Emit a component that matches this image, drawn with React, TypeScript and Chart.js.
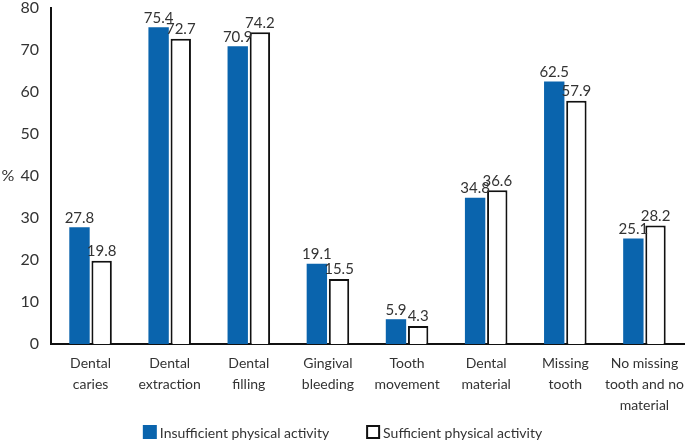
import React, { useEffect, useRef } from "react";
import { Chart, registerables } from "chart.js";

Chart.register(...registerables);

const categories: string[][] = [
  ["Dental", "caries"],
  ["Dental", "extraction"],
  ["Dental", "filling"],
  ["Gingival", "bleeding"],
  ["Tooth", "movement"],
  ["Dental", "material"],
  ["Missing", "tooth"],
  ["No missing", "tooth and no", "material"],
];
const insufficient = [27.8, 75.4, 70.9, 19.1, 5.9, 34.8, 62.5, 25.1];
const sufficient = [19.8, 72.7, 74.2, 15.5, 4.3, 36.6, 57.9, 28.2];
const yTicks = [0, 10, 20, 30, 40, 50, 60, 70, 80];
const seriesNames = ["Insufficient physical activity", "Sufficient physical activity"];

const FONT = "Lato, 'Open Sans', sans-serif";
const TEXT = "#333333";
const BLUE = "#0a64ad";

const valueLabels = {
  id: "valueLabels",
  afterDatasetsDraw(chart: any) {
    const ctx = chart.ctx;
    ctx.save();
    ctx.font = `15px ${FONT}`;
    ctx.fillStyle = TEXT;
    ctx.textAlign = "center";
    ctx.textBaseline = "bottom";
    chart.data.datasets.forEach((ds: any, di: number) => {
      const meta = chart.getDatasetMeta(di);
      meta.data.forEach((el: any, i: number) => {
        ctx.fillText(ds.data[i].toFixed(1), el.x, el.y - 2);
      });
    });
    ctx.restore();
  },
};

const extras = {
  id: "extras",
  afterDraw(chart: any) {
    const ctx = chart.ctx;
    ctx.save();
    const y40 = chart.scales.y.getPixelForValue(40);
    ctx.font = `16px ${FONT}`;
    ctx.fillStyle = TEXT;
    ctx.textAlign = "center";
    ctx.textBaseline = "middle";
    ctx.fillText("%", 8, y40);
    ctx.font = `14px ${FONT}`;
    ctx.textAlign = "left";
    const box = 14;
    const gapText = 3;
    const gapItems = 37;
    const widths = seriesNames.map((n) => ctx.measureText(n).width);
    const total = widths[0] + widths[1] + 2 * (box + gapText) + gapItems;
    let x = (chart.width - total) / 2;
    const cy = 432;
    seriesNames.forEach((n, i) => {
      if (i === 0) {
        ctx.fillStyle = BLUE;
        ctx.fillRect(x, cy - box / 2, box, box);
      } else {
        ctx.fillStyle = "#fff";
        ctx.fillRect(x, cy - box / 2, box, box);
        ctx.strokeStyle = "#111";
        ctx.lineWidth = 2;
        ctx.strokeRect(x + 1, cy - box / 2 + 1, box - 2, box - 2);
      }
      ctx.fillStyle = TEXT;
      ctx.fillText(n, x + box + gapText, cy + 1);
      x += box + gapText + widths[i] + gapItems;
    });
    ctx.restore();
  },
};

export default function App() {
  const ref = useRef<HTMLCanvasElement>(null);
  useEffect(() => {
    if (!ref.current) return;
    const chart = new Chart(ref.current, {
      type: "bar",
      data: {
        labels: categories,
        datasets: [
          {
            label: seriesNames[0],
            data: insufficient,
            backgroundColor: BLUE,
            borderWidth: 0,
            categoryPercentage: 0.56,
            barPercentage: 0.92,
          },
          {
            label: seriesNames[1],
            data: sufficient,
            backgroundColor: "#ffffff",
            borderColor: "#111111",
            borderWidth: 2,
            categoryPercentage: 0.56,
            barPercentage: 0.92,
          },
        ],
      },
      options: {
        animation: false,
        responsive: false,
        maintainAspectRatio: false,
        layout: { padding: { top: 8, right: 1, left: 0, bottom: 0 } },
        plugins: {
          legend: { display: false },
          tooltip: { enabled: false },
        },
        scales: {
          x: {
            grid: { display: false, drawTicks: false },
            border: { display: true, color: "#111111", width: 2 },
            afterFit: (axis: any) => {
              axis.height = 99;
              axis.paddingLeft = 0;
              axis.paddingRight = 0;
            },
            ticks: {
              font: { family: FONT, size: 14, lineHeight: 1.5 },
              color: TEXT,
              padding: 9,
              maxRotation: 0,
              autoSkip: false,
            },
          },
          y: {
            min: 0,
            max: 80,
            afterBuildTicks: (axis: any) => {
              axis.ticks = yTicks.map((v) => ({ value: v }));
            },
            afterFit: (axis: any) => {
              axis.width = 51;
              axis.paddingTop = 0;
              axis.paddingBottom = 0;
            },
            grid: { display: false, drawTicks: false },
            border: { display: true, color: "#111111", width: 2 },
            ticks: {
              font: { family: FONT, size: 16 },
              color: TEXT,
              padding: 12,
            },
          },
        },
      },
      plugins: [valueLabels, extras],
    });
    return () => chart.destroy();
  }, []);
  return (
    <div style={{ position: "fixed", left: 0, top: 0, width: 685, height: 443, background: "#fff" }}>
      <canvas ref={ref} width={685} height={443} />
    </div>
  );
}
